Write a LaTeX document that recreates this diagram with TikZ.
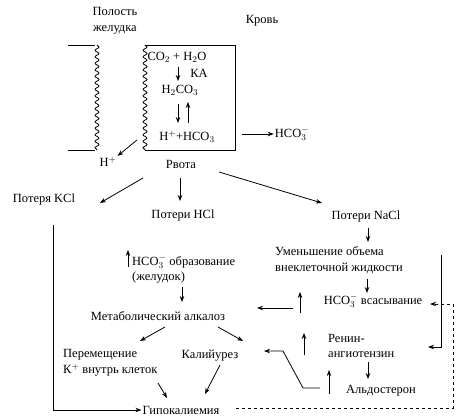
\documentclass[tikz,border=0pt]{standalone}
\usepackage{fontspec}
\setmainfont{Liberation Serif}
\usetikzlibrary{decorations.pathmorphing,arrows.meta}
\begin{document}
\begin{tikzpicture}[x=1pt,y=-1pt,
  font=\fontsize{12.5}{15.5}\selectfont,
  every node/.style={inner sep=1pt},
  ln/.style={line width=0.8pt},
  arr/.style={ln,-{Stealth[length=6pt,width=4.5pt]}},
  wavy/.style={ln,decorate,decoration={snake,amplitude=2pt,segment length=6.5pt}},
  txt/.style={align=left}]
\useasboundingbox (0,0) rectangle (462,419);

% top labels
\node[align=center] (pol) at (115,21) {Полость\\желудка};
\node (krov) at (262,21) {Кровь};

% stomach wall
\draw[ln] (68,45) -- (95,45);
\draw[ln] (68,150) -- (95,150);
\draw[wavy] (97,45) -- (97,150);

% cell box
\draw[wavy] (145,45) -- (145,150);
\draw[ln] (145,45) -- (235,45) -- (235,150) -- (145,150);

\node (co2) at (177,57) {CO$_2$ + H$_2$O};
\node (ka) at (199,73) {КА};
\node (h2co3) at (180,90) {H$_2$CO$_3$};
\node (hhco3) at (187,137) {H$^+$+HCO$_3$};
\coordinate (a1s) at (178,67); \coordinate (a1e) at (178,81);
\draw[arr] (a1s) -- (a1e);
\coordinate (a2s) at (178,104); \coordinate (a2e) at (178,123);
\draw[arr] (a2s) -- (a2e);
\coordinate (a3s) at (188,123); \coordinate (a3e) at (188,102);
\draw[arr] (a3s) -- (a3e);

\node (hco3b) at (292,134) {HCO$_3^-$};
\coordinate (bx) at (242,134);
\draw[arr] (bx) -- (hco3b.west);

\node (hplus) at (108,162) {H$^+$};
\coordinate (hx) at (137,140);
\draw[arr] (hx) -- (hplus.north east);

\node (rvota) at (181,164) {Рвота};
\node (kcl) at (44,199) {Потеря KCl};
\node (hcl) at (183,215) {Потери HCl};
\node (nacl) at (366,216) {Потери NaCl};
\coordinate (r1) at (143,178); \coordinate (k1) at (100,203);
\draw[arr] (r1) -- (k1);
\coordinate (r2) at (180,178); \coordinate (h1) at (180,201);
\draw[arr] (r2) -- (h1);
\coordinate (r3) at (219,172); \coordinate (n1) at (322,203);
\draw[arr] (r3) -- (n1);

\node[txt,anchor=west] (umen) at (274,260) {Уменьшение объема\\внеклеточной жидкости};
\draw[arr] (368,228) -- (368,242);
\draw[arr] (367,279) -- (367,293);
\node (vsas) at (373,301) {HCO$_3^-$ всасывание};

\node (gipo) at (181,410) {Гипокалиемия};
\coordinate (kv) at (53,225);
\draw[arr] (kv) -- (53,410) -- (gipo.west);

\node[txt,anchor=west] (obr) at (131,269) {HCO$_3^-$ образование\\(желудок)};
\coordinate (u1s) at (128,267); \coordinate (u1e) at (128,250);
\draw[arr] (u1s) -- (u1e);

\node (meta) at (158,316) {Метаболический алкалоз};
\coordinate (ob1) at (182,287); \coordinate (me1) at (182,302);
\draw[arr] (ob1) -- (me1);
\node[txt,anchor=west] (perem) at (62,363) {Перемещение\\К$^+$ внутрь клеток};
\node (kaliy) at (210,356) {Калийурез};
\draw[arr] (165,327) -- (140,341);
\draw[arr] (218,327) -- (243,341);
\draw[arr] (158,383) -- (167,398);
\draw[arr] (220,365) -- (205,394);

% right-hand side
\node[txt,anchor=west] (renin) at (327,346) {Ренин-\\ангиотензин};
\node (aldo) at (381,391) {Альдостерон};
\draw[arr] (368,362) -- (368,379);
\coordinate (rv) at (441,255); \coordinate (re) at (428,347);
\draw[arr] (rv) -- (441,347) -- (re);
\coordinate (gd) at (236,408); \coordinate (vd) at (430,304);
\draw[arr,dashed] (gd) -- (453,408) -- (453,304) -- (vd);

\coordinate (l1s) at (293,308); \coordinate (l1e) at (257,308);
\draw[arr] (l1s) -- (l1e);
\coordinate (u2s) at (300,313); \coordinate (u2e) at (300,292);
\draw[arr] (u2s) -- (u2e);
\coordinate (u3s) at (304,355); \coordinate (u3e) at (304,333);
\draw[arr] (u3s) -- (u3e);
\coordinate (u4s) at (329,394); \coordinate (u4e) at (329,370);
\draw[arr] (u4s) -- (u4e);
\coordinate (al1) at (320,388); \coordinate (ka1) at (264,351);
\draw[arr] (al1) -- (303,388) -- (283,351) -- (ka1);
\end{tikzpicture}
\end{document}
